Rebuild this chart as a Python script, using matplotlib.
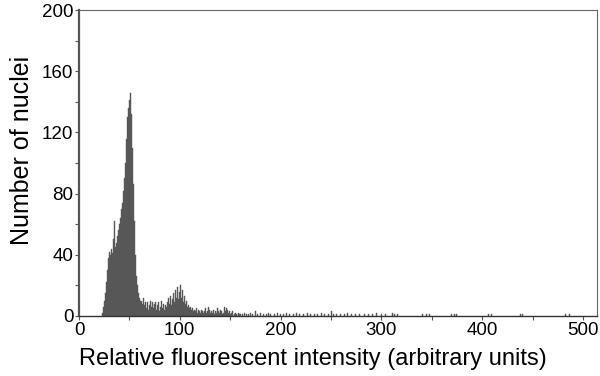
import numpy as np
from matplotlib import pyplot as plt
from matplotlib.ticker import MultipleLocator

# Histogram counts, one bin per intensity unit, starting at intensity 23
firstBin = 23
peakCounts = [2, 6, 10, 15, 22, 30, 38, 42, 40, 44,          # 23-32
              41, 50, 62, 45, 48, 52, 56, 60, 64, 70,        # 33-42
              74, 82, 90, 100, 116, 130, 136, 141, 146, 132, # 43-52
              110, 86, 62, 40, 26, 20, 15, 12, 10, 8,        # 53-62
              12, 7, 9, 5, 9, 4, 7, 10, 6, 9,                # 63-72
              5, 8, 9, 4, 7, 9, 3, 6, 10, 5,                 # 73-82
              8, 4, 7, 6, 9, 12, 8, 13, 7, 11,               # 83-92
              15, 9, 17, 12, 19, 11, 16, 20, 12, 17,         # 93-102
              9, 13, 8, 10, 6, 7, 5, 6, 4, 5,                # 103-112
              3, 4, 3, 5, 2, 4, 3, 2, 4, 3,                  # 113-122
              2, 3, 5, 2, 3, 6, 4, 2, 3, 2,                  # 123-132
              4, 1, 3, 2, 5, 3, 2, 4, 3, 1,                  # 133-142
              2, 6, 3, 5, 4, 2, 3, 1, 2, 3,                  # 143-152
              0, 1, 2, 1, 0, 2, 1, 1]                        # 153-160

# Sparse tail of the distribution
tailBins = [162, 164, 166, 168, 170, 172, 175, 177, 180, 183, 186, 188, 190,
            193, 196, 199, 202, 205, 208, 212, 215, 218, 222, 226, 229, 233,
            236, 240, 243, 247, 250, 252, 255, 259, 263, 266, 270, 274, 278,
            283, 287, 291, 295, 300, 304, 311, 313, 316, 340, 344, 347, 369,
            372, 374, 406, 409, 438, 440, 482, 486]
tailCounts = [1, 2, 1, 1, 2, 1, 3, 1, 2, 1, 1, 2, 1,
              1, 2, 1, 1, 2, 1, 1, 2, 1, 1, 2, 1, 1,
              1, 2, 1, 1, 3, 1, 1, 1, 1, 2, 1, 1, 1,
              1, 1, 1, 2, 1, 1, 2, 1, 1, 1, 1, 1, 1,
              1, 1, 1, 1, 1, 1, 1, 1]

xTicks = [0, 100, 200, 300, 400, 500]
yTicks = [0, 40, 80, 120, 160, 200]

plt.rcParams["font.family"] = ["Liberation Sans", "DejaVu Sans"]

fig = plt.figure(figsize=(6, 3.76), dpi=100)
ax = fig.add_axes([0.1317, 0.1596, 0.8633, 0.8138])

bins = np.concatenate([np.arange(firstBin, firstBin + len(peakCounts)), tailBins])
counts = np.concatenate([peakCounts, tailCounts])

ax.bar(bins, counts, width=1.0, align="edge", color="#575757",
       edgecolor="#575757", linewidth=0.3)

ax.set_xlim(0, 514)
ax.set_ylim(0, 200)
ax.set_xticks(xTicks)
ax.set_yticks(yTicks)
ax.xaxis.set_minor_locator(MultipleLocator(50))
ax.yaxis.set_minor_locator(MultipleLocator(20))
ax.tick_params(which="both", direction="out", length=3, width=0.8,
               color="#555555", labelsize=13.5, pad=1)

for side in ["top", "right"]:
    ax.spines[side].set_color("#666666")
    ax.spines[side].set_linewidth(0.8)
ax.spines["left"].set_color("#555555")
ax.spines["left"].set_linewidth(1.6)
ax.spines["bottom"].set_color("#333333")
ax.spines["bottom"].set_linewidth(1.0)

ax.set_xlabel("Relative fluorescent intensity (arbitrary units)", fontsize=17, labelpad=4)
ax.xaxis.set_label_coords(0.452, -0.105)
ax.set_ylabel("Number of nuclei", fontsize=18)
ax.yaxis.set_label_coords(-0.087, 0.54)

fig.savefig("out.png", dpi=100)
